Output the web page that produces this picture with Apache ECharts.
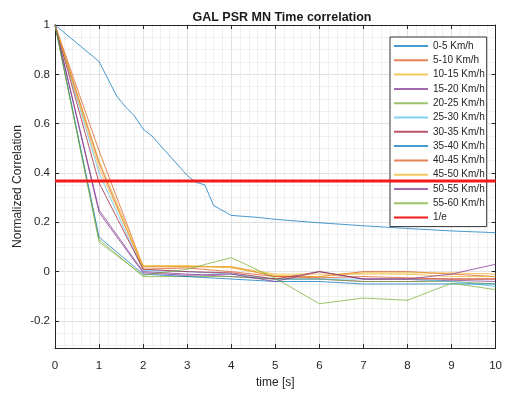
<!DOCTYPE html>
<html>
<head>
<meta charset="utf-8">
<script src="https://cdn.jsdelivr.net/npm/echarts@6/dist/echarts.min.js"></script>
<style>html,body{margin:0;padding:0;background:#fff}#c{width:505px;height:394px}</style>
</head>
<body>
<div id="c"></div>
<script>
const chartTitle = 'GAL PSR MN Time correlation';
const xName = 'time [s]';
const yName = 'Normalized Correlation';
const yTickValues = [-0.2, 0, 0.2, 0.4, 0.6, 0.8, 1];
const seriesNames = ['0-5 Km/h','5-10 Km/h','10-15 Km/h','15-20 Km/h','20-25 Km/h','25-30 Km/h','30-35 Km/h','35-40 Km/h','40-45 Km/h','45-50 Km/h','50-55 Km/h','55-60 Km/h'];
const refName = '1/e';
const refValue = 0.3679;

// 0-5 Km/h (finer time sampling)
const time0 = [0, 1, 1.4, 1.6, 1.8, 2.0, 2.2, 2.6, 3.0, 3.2, 3.4, 3.6, 4.0, 4.6, 5.0, 6, 7, 8, 9, 10];
const vals0 = [1, 0.852, 0.712, 0.668, 0.632, 0.578, 0.55, 0.47, 0.39, 0.362, 0.352, 0.268, 0.228, 0.22, 0.212, 0.198, 0.186, 0.175, 0.165, 0.158];

// other speed classes, t = 0..10 s
const time = [0, 1, 2, 3, 4, 5, 6, 7, 8, 9, 10];
const vals5_10  = [1, 0.49, 0.02, 0.02, 0.02, -0.02, -0.02, 0.0, 0.0, -0.01, -0.02];
const vals10_15 = [1, 0.45, 0.025, 0.025, 0.015, -0.015, -0.02, -0.005, -0.005, -0.005, -0.01];
const vals15_20 = [1, 0.25, 0.0, -0.01, -0.02, -0.03, -0.03, -0.04, -0.04, -0.035, -0.04];
const vals20_25 = [1, 0.13, -0.02, -0.02, -0.02, -0.03, -0.03, -0.04, -0.04, -0.04, -0.05];
const vals25_30 = [1, 0.40, 0.005, 0.0, -0.01, -0.03, -0.03, -0.03, -0.03, -0.04, -0.06];
const vals30_35 = [1, 0.36, 0.01, 0.0, -0.005, -0.03, 0.0, -0.03, -0.03, -0.03, -0.03];
const vals35_40 = [1, 0.14, -0.01, -0.02, -0.03, -0.04, -0.04, -0.05, -0.05, -0.05, -0.05];
const vals40_45 = [1, 0.44, 0.01, 0.015, 0.0, -0.02, -0.025, -0.02, -0.025, -0.03, -0.03];
const vals45_50 = [1, 0.42, 0.02, 0.02, 0.02, -0.01, -0.01, -0.01, -0.01, -0.02, -0.02];
const vals50_55 = [1, 0.24, -0.005, -0.015, -0.01, -0.04, 0.0, -0.03, -0.03, -0.01, 0.03];
const vals55_60 = [1, 0.12, -0.015, 0.01, 0.057, -0.027, -0.13, -0.107, -0.116, -0.047, -0.073];

const colors = ['#0072BD','#D95319','#EDB120','#7E2F8E','#77AC30','#4DBEEE','#A2142F','#0072BD','#D95319','#EDB120','#7E2F8E','#77AC30'];

const allVals = [vals0, vals5_10, vals10_15, vals15_20, vals20_25, vals25_30, vals30_35, vals35_40, vals40_45, vals45_50, vals50_55, vals55_60];

const pair = (xs, ys) => xs.map((x, i) => [x, ys[i]]);

const series = allVals.map((v, i) => ({
  name: seriesNames[i],
  type: 'line',
  data: pair(i === 0 ? time0 : time, v),
  symbol: 'none',
  lineStyle: { width: 1, color: colors[i], opacity: 0.72 },
  itemStyle: { color: colors[i] },
  z: 3,
  silent: true,
  animation: false
}));
series.push({
  name: refName,
  type: 'line',
  data: pair([0, 10], [refValue, refValue]),
  symbol: 'none',
  lineStyle: { width: 3, color: '#F21A1A' },
  itemStyle: { color: '#F21A1A' },
  z: 4,
  animation: false
});

const AX = '#262626';
const FONT = 'Liberation Sans, Arial, sans-serif';
// y split lines every 0.01 from -0.31: draw 0.05 minor and 0.2 major
const yLineColors = [];
for (let i = 0; i < 20; i++) {
  if (i === 11) yLineColors.push('#e0e0e0');
  else if (i % 5 === 1) yLineColors.push('#f0f0f0');
  else yLineColors.push('rgba(0,0,0,0)');
}
const fmtY = v => {
  const k = v * 5;
  if (Math.abs(k - Math.round(k)) < 1e-6) { const r = Math.round(k) / 5; return (Math.abs(r) < 1e-9 ? 0 : +r.toFixed(1)).toString(); }
  return '';
};

const yCommon = { type: 'value', min: -0.31, max: 1 };
const tickAxis = (pos) => Object.assign({}, yCommon, {
  position: pos, interval: 0.01,
  axisLine: { show: true, lineStyle: { color: AX, width: 1 } },
  axisTick: { show: true, inside: true, length: 4, lineStyle: { color: AX }, customValues: yTickValues },
  axisLabel: { show: false }, splitLine: { show: false }
});

const chart = echarts.init(document.getElementById('c'), null, { renderer: 'canvas' });
chart.setOption({
  animation: false,
  backgroundColor: '#fff',
  title: {
    text: chartTitle, left: 277, top: 6, textAlign: 'center',
    textStyle: { fontFamily: FONT, fontSize: 12.5, fontWeight: 'bold', color: '#1a1a1a' }
  },
  grid: { left: 55, right: 7, top: 25, bottom: 42, containLabel: false },
  legend: {
    orient: 'vertical', left: 390, top: 37,
    padding: [4, 2, 4, 3],
    itemWidth: 34, itemHeight: 10, itemGap: 4.3,
    itemStyle: { opacity: 0 },
    backgroundColor: '#fff', borderColor: '#333', borderWidth: 1,
    textStyle: { fontFamily: FONT, fontSize: 10, color: '#262626', lineHeight: 10 },
    data: seriesNames.concat([refName])
  },
  xAxis: [{
    type: 'value', min: 0, max: 10, interval: 1,
    name: xName, nameLocation: 'middle', nameGap: 26,
    nameTextStyle: { fontFamily: FONT, fontSize: 12, color: AX },
    axisLine: { show: true, onZero: false, lineStyle: { color: AX } },
    axisTick: { show: true, inside: true, length: 4, lineStyle: { color: AX } },
    axisLabel: { fontFamily: FONT, fontSize: 11.5, color: AX, margin: 12 },
    splitLine: { show: true, lineStyle: { color: '#e0e0e0', width: 1 } },
    minorTick: { show: false, splitNumber: 5 },
    minorSplitLine: { show: true, lineStyle: { color: '#f0f0f0', width: 1 } }
  }, {
    type: 'value', min: 0, max: 10, interval: 1, position: 'top',
    axisLine: { show: true, onZero: false, lineStyle: { color: AX } },
    axisTick: { show: true, inside: true, length: 4, lineStyle: { color: AX } },
    axisLabel: { show: false }, splitLine: { show: false }
  }],
  yAxis: [Object.assign({}, yCommon, {
    position: 'left', interval: 0.01,
    name: yName, nameLocation: 'middle', nameGap: 31, nameRotate: 90, nameMoveOverlap: false,
    nameTextStyle: { fontFamily: FONT, fontSize: 12, color: AX },
    axisLine: { show: true, lineStyle: { color: AX, width: 1 } },
    axisTick: { show: false },
    axisLabel: { fontFamily: FONT, fontSize: 11.5, color: AX, margin: 5, formatter: fmtY },
    splitLine: { show: true, lineStyle: { color: yLineColors, width: 1 } }
  }), tickAxis('left'), tickAxis('right')],
  series: series
});
</script>
</body>
</html>
